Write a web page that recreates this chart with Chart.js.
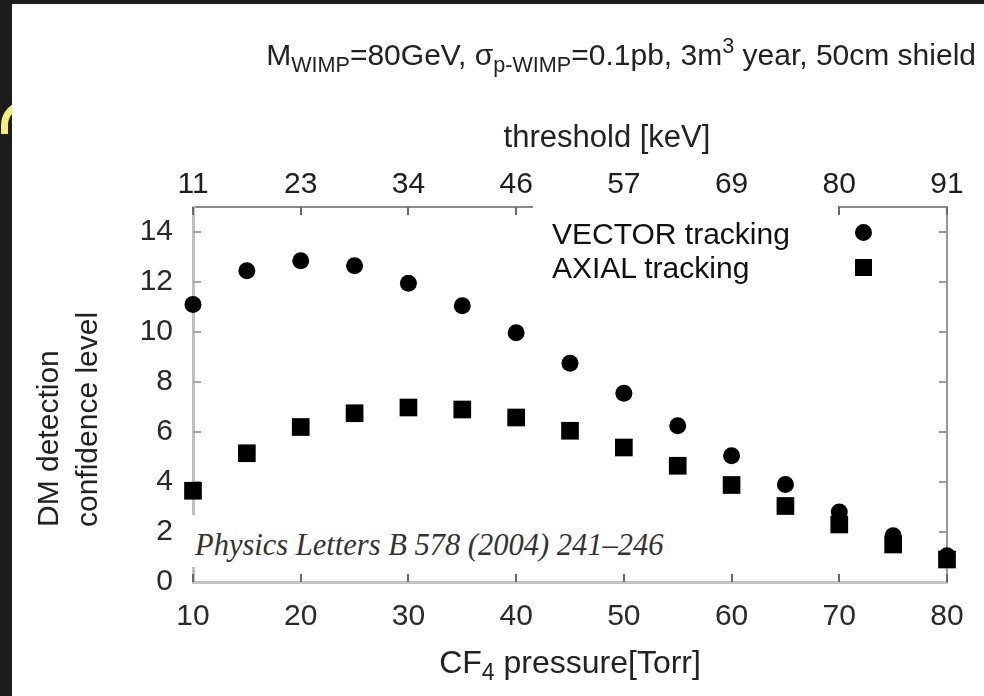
<!DOCTYPE html>
<html>
<head>
<meta charset="utf-8">
<title>DM detection confidence level vs CF4 pressure</title>
<script src="https://cdn.jsdelivr.net/npm/chart.js@4.4.0/dist/chart.umd.min.js"></script>
<style>
  html, body { margin: 0; padding: 0; }
  body {
    width: 984px; height: 696px; position: relative; overflow: hidden;
    background: #1c1c1c;
    font-family: "Liberation Sans", Arial, sans-serif; color: #222;
  }
  #swoosh {
    position: absolute; left: 1px; top: 101px; width: 26px; height: 26px;
    border-left: 7px solid #f4ef7c; border-top: 7px solid #f4ef7c;
    border-radius: 24px 0 0 0;
  }
  #paper { position: absolute; left: 12px; top: 4px; right: 0; bottom: 0; background: #fff; }
  #wrap { position: absolute; left: 0; top: 0; width: 984px; height: 696px; }
  .txt { position: absolute; white-space: nowrap; line-height: 1; }
  .txt sub { font-size: 0.72em; vertical-align: -0.32em; line-height: 0; }
  .txt sup { font-size: 0.72em; vertical-align: 0.55em; line-height: 0; }
  #title { right: 8px; top: 40px; font-size: 30px; }
  #topTitle { left: 607px; top: 121px; font-size: 31px; transform: translateX(-50%); }
  #yTitle {
    left: 28px; top: 527px; font-size: 30px; line-height: 39px;
    transform: rotate(-90deg); transform-origin: left top;
  }
  #xTitle { left: 570px; top: 646px; font-size: 32px; transform: translateX(-50%); }
  #legendBox { position: absolute; left: 533px; top: 199px; width: 305px; height: 84px; background: #fff; }
  #legend { left: 552px; top: 217px; font-size: 30px; line-height: 34px; color: #111; }
  .mark { position: absolute; background: #000; width: 17px; height: 17px; }
  #markVec { left: 855px; top: 224px; border-radius: 50%; }
  #markAx { left: 855px; top: 259px; }
  #cite {
    position: absolute; left: 186px; top: 515px; height: 52px; box-sizing: border-box;
    padding: 15px 4px 0 9px; background: #fff; line-height: 1;
    font-family: "Liberation Serif", "Times New Roman", serif; font-style: italic;
    font-size: 30.5px; color: #333; white-space: nowrap;
  }
</style>
</head>
<body>
<div id="swoosh"></div>
<div id="paper"></div>
<div id="wrap"><canvas id="chart" width="984" height="696"></canvas></div>

<div class="txt" id="title">M<sub>WIMP</sub>=80GeV, σ<sub>p-WIMP</sub>=0.1pb, 3m<sup>3</sup> year, 50cm shield</div>
<div class="txt" id="topTitle">threshold [keV]</div>
<div class="txt" id="yTitle">DM detection<br>confidence level</div>
<div class="txt" id="xTitle">CF<sub>4</sub> pressure[Torr]</div>
<div id="legendBox"></div>
<div class="txt" id="legend">VECTOR tracking<br>AXIAL tracking</div>
<div class="mark" id="markVec"></div>
<div class="mark" id="markAx"></div>
<div id="cite">Physics Letters B 578 (2004) 241–246</div>

<script>
// Data
const pressure = [10, 15, 20, 25, 30, 35, 40, 45, 50, 55, 60, 65, 70, 75, 80];
const vectorCL = [11.1, 12.45, 12.85, 12.65, 11.95, 11.05, 9.97, 8.75, 7.55, 6.25, 5.05, 3.9, 2.8, 1.85, 1.05];
const axialCL = [3.65, 5.15, 6.2, 6.75, 6.98, 6.9, 6.58, 6.05, 5.38, 4.65, 3.88, 3.04, 2.3, 1.5, 0.9];

const pressureTicks = [10, 20, 30, 40, 50, 60, 70, 80];
const thresholdLabels = ["11", "23", "34", "46", "57", "69", "80", "91"];
const levelTicks = [0, 2, 4, 6, 8, 10, 12, 14];

const FONT = "'Liberation Sans', Arial, sans-serif";

function toPoints(ys) {
  return pressure.map((p, i) => ({ x: p, y: ys[i] }));
}

function setTicks(values) {
  return scale => { scale.ticks = values.map(v => ({ value: v })); };
}

// small tick marks pointing into the plot
const innerTicks = {
  id: "innerTicks",
  beforeDatasetsDraw(chart) {
    const { ctx, chartArea: a, scales } = chart;
    const len = 8;
    ctx.save();
    ctx.lineWidth = 2;

    ctx.strokeStyle = "#6a6a6a";
    pressureTicks.forEach(v => {
      const px = Math.round(scales.x.getPixelForValue(v));
      ctx.beginPath();
      ctx.moveTo(px, a.bottom);
      ctx.lineTo(px, a.bottom - len);
      ctx.moveTo(px, a.top);
      ctx.lineTo(px, a.top + len);
      ctx.stroke();
    });

    levelTicks.forEach(v => {
      if (v === 0) return;
      const py = Math.round(scales.y.getPixelForValue(v));
      ctx.strokeStyle = "#a8a8a8";
      ctx.beginPath();
      ctx.moveTo(a.left, py);
      ctx.lineTo(a.left + len, py);
      ctx.stroke();
      ctx.strokeStyle = "#9a9a9a";
      ctx.beginPath();
      ctx.moveTo(a.right, py);
      ctx.lineTo(a.right - len, py);
      ctx.stroke();
    });
    ctx.restore();
  }
};

const tickFont = { family: FONT, size: 30 };

new Chart(document.getElementById("chart"), {
  type: "scatter",
  data: {
    datasets: [
      {
        label: "VECTOR tracking",
        data: toPoints(vectorCL),
        pointStyle: "circle",
        pointRadius: 8.5,
        pointBorderWidth: 0,
        backgroundColor: "#000",
        borderColor: "#000",
        clip: false
      },
      {
        label: "AXIAL tracking",
        data: toPoints(axialCL),
        pointStyle: "rect",
        pointRadius: 12.5,
        pointBorderWidth: 0,
        backgroundColor: "#000",
        borderColor: "#000",
        clip: false
      }
    ]
  },
  options: {
    responsive: false,
    animation: false,
    events: [],
    layout: { padding: 0 },
    plugins: { legend: { display: false }, tooltip: { enabled: false } },
    scales: {
      x: {
        type: "linear", position: "bottom", min: 10, max: 80,
        afterBuildTicks: setTicks(pressureTicks),
        afterFit: s => { s.height = 696 - 582; },
        grid: { display: false, drawTicks: false },
        border: { color: "#c4c4c4", width: 3 },
        ticks: { font: tickFont, color: "#2a2a2a", padding: 17, maxRotation: 0, autoSkip: false }
      },
      x2: {
        type: "linear", position: "top", min: 10, max: 80,
        afterBuildTicks: setTicks(pressureTicks),
        afterFit: s => { s.height = 207; },
        grid: { display: false, drawTicks: false },
        border: { color: "#8a8a8a", width: 2 },
        ticks: {
          font: tickFont, color: "#1e1e1e", padding: 4, maxRotation: 0, autoSkip: false,
          callback: (v, i) => thresholdLabels[i]
        }
      },
      y: {
        type: "linear", position: "left", min: 0, max: 15,
        afterBuildTicks: setTicks(levelTicks),
        afterFit: s => { s.width = 193; },
        grid: { display: false, drawTicks: false },
        border: { color: "#c0c0c0", width: 3 },
        ticks: { font: tickFont, color: "#2a2a2a", padding: 20 }
      },
      y2: {
        type: "linear", position: "right", min: 0, max: 15,
        afterBuildTicks: setTicks(levelTicks),
        afterFit: s => { s.width = 984 - 947; },
        grid: { display: false, drawTicks: false },
        border: { color: "#999", width: 2 },
        ticks: { display: false }
      }
    }
  },
  plugins: [innerTicks]
});
</script>
</body>
</html>
